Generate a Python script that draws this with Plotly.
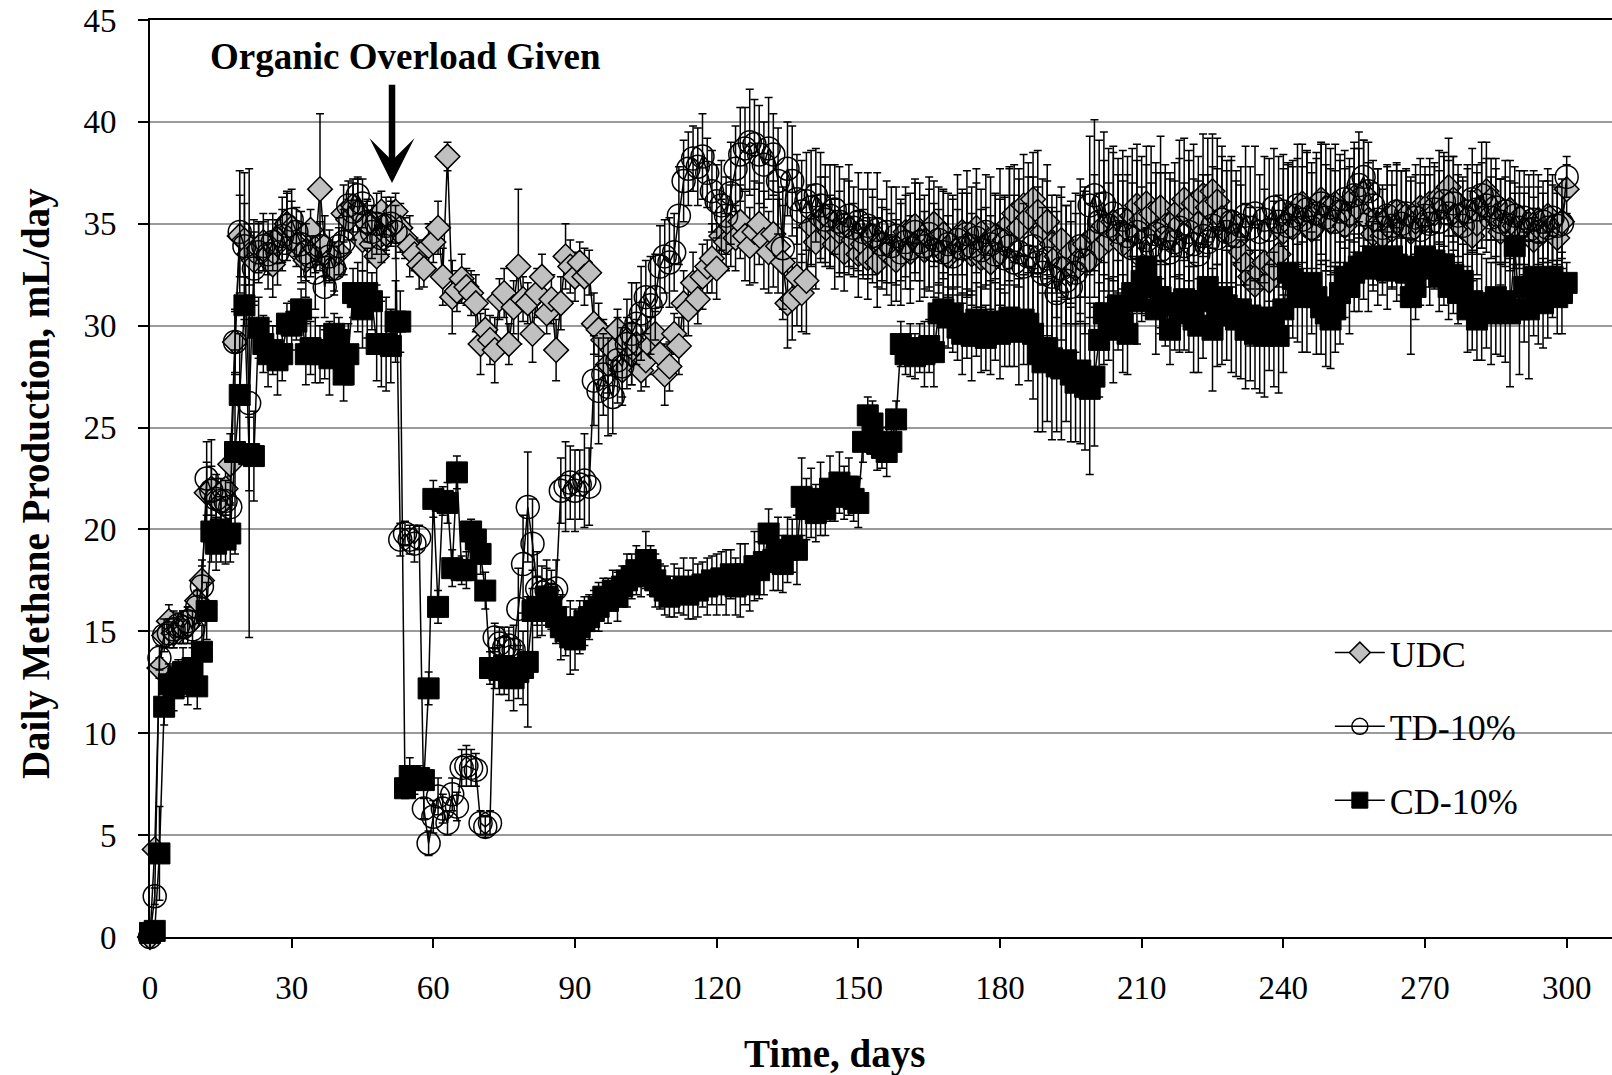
import plotly.graph_objects as go

days = list(range(0, 301))

udc = [
    0.0, 4.3, 13.2, 14.8, 15.5, 14.9, 15.0, 15.2, 15.3, 15.8,
    16.5, 17.5, 21.8, 22.0, 21.5, 21.3, 22.0, 23.2, 29.2, 34.4,
    34.2, 33.5, 33.2, 33.8, 34.1, 33.5, 33.0, 34.0, 34.5, 35.0,
    34.8, 34.0, 33.5, 33.2, 34.7, 33.8, 36.7, 33.9, 33.2, 32.8,
    33.6, 35.5, 35.2, 35.9, 35.6, 34.2, 35.0, 34.0, 33.4, 35.6,
    34.5, 35.2, 35.6, 34.8, 34.3, 33.9, 33.5, 33.0, 32.8, 33.9,
    34.1, 34.8, 32.4, 38.3, 31.4, 31.7, 32.3, 31.9, 31.6, 31.1,
    29.1, 29.8, 29.3, 28.8, 31.3, 31.6, 29.1, 30.9, 32.9, 31.3,
    31.1, 29.6, 31.6, 32.4, 30.6, 31.3, 28.8, 31.1, 33.4, 32.9,
    32.4, 33.1, 32.4, 32.6, 30.1, 29.8, 29.3, 28.1, 28.8, 29.8,
    27.8, 29.3, 28.6, 29.1, 27.8, 28.3, 29.0, 29.6, 28.6, 27.6,
    28.0, 29.6, 29.0, 31.1, 30.8, 32.1, 31.3, 32.4, 32.9, 33.3,
    32.8, 34.4, 34.1, 34.9, 34.3, 35.1, 34.4, 33.9, 34.6, 35.0,
    34.2, 33.6, 34.5, 33.9, 33.1, 31.1, 31.3, 32.4, 31.6, 32.2,
    34.9, 34.1, 35.2, 35.4, 34.6, 34.0, 34.6, 33.6, 34.8, 34.2,
    33.5, 34.0, 33.3, 34.4, 33.1, 34.0, 33.6, 33.8, 33.2, 34.1,
    34.6, 33.6, 34.9, 34.2, 33.7, 34.3, 35.0, 33.9, 34.5, 33.4,
    34.1, 33.8, 34.6, 34.0, 33.5, 34.8, 33.3, 33.9, 33.1, 34.4,
    33.6, 34.2, 35.0, 35.5, 34.8, 35.9, 35.3, 36.2, 35.6, 34.6,
    35.1, 34.0, 33.4, 34.2, 33.0, 33.6, 32.8, 33.3, 34.0, 33.2,
    34.4, 33.8, 34.9, 34.2, 35.1, 34.5, 34.0, 34.7, 35.4, 35.9,
    35.2, 36.0, 35.5, 34.6, 35.8, 34.9, 34.3, 35.2, 35.7, 36.2,
    35.4, 36.0, 35.0, 36.4, 35.8, 36.6, 36.1, 35.3, 34.6, 35.1,
    34.2, 33.6, 33.0, 32.4, 32.0, 32.6, 33.1, 32.2, 32.8, 33.5,
    34.6, 35.2, 34.8, 35.6, 36.0, 35.3, 34.7, 35.5, 36.2, 35.8,
    35.1, 36.0, 35.6, 34.9, 35.4, 36.3, 35.7, 36.5, 35.2, 34.5,
    35.0, 34.4, 35.3, 34.7, 35.6, 34.9, 35.4, 34.6, 35.1, 35.8,
    35.2, 36.0, 35.5, 36.3, 35.8, 36.8, 36.2, 35.4, 34.8, 35.3,
    34.4, 35.0, 35.9, 36.6, 36.2, 35.4, 34.6, 35.1, 35.7, 34.9,
    35.3, 34.5, 35.0, 34.2, 35.2, 34.6, 35.4, 34.9, 34.3, 35.1,
    36.7,
]

udc_err = [
    0.0, 0.3, 0.5, 0.6, 0.8, 0.7, 0.6, 0.8, 0.9, 0.7,
    0.8, 1.0, 1.5, 2.4, 1.2, 1.0, 1.3, 1.5, 1.6, 2.0,
    1.8, 1.5, 2.0, 1.2, 1.4, 1.0, 1.6, 1.2, 1.8, 1.5,
    1.3, 1.1, 1.4, 1.8, 1.0, 1.2, 3.7, 1.5, 1.0, 1.3,
    1.2, 1.4, 1.0, 1.3, 1.6, 1.5, 1.2, 0.9, 1.4, 1.0,
    0.8, 1.1, 0.9, 1.2, 1.0, 1.5, 0.8, 1.2, 0.9, 1.1,
    1.0, 1.3, 1.4, 0.7, 1.8, 1.0, 1.2, 0.9, 1.1, 1.4,
    1.5, 1.0, 1.2, 1.6, 1.0, 1.2, 1.0, 1.3, 3.8, 1.1,
    1.0, 1.4, 1.2, 1.1, 1.0, 1.2, 1.5, 1.3, 1.6, 1.3,
    1.2, 1.0, 1.4, 1.1, 1.5, 1.3, 1.0, 1.4, 1.2, 1.0,
    1.3, 1.1, 1.5, 1.2, 1.0, 1.3, 1.4, 1.1, 1.2, 1.5,
    1.2, 1.0, 1.4, 1.6, 1.3, 1.5, 1.2, 1.6, 1.3, 1.7,
    1.5, 1.8, 1.4, 2.0, 1.6, 1.8, 2.2, 1.9, 2.5, 2.0,
    2.4, 2.0, 2.6, 2.3, 2.8, 2.2, 2.0, 2.4, 1.9, 2.6,
    2.0, 2.3, 2.1, 2.5, 1.8, 2.2, 2.0, 1.9, 2.3, 1.8,
    2.1, 1.7, 2.0, 1.9, 2.2, 1.8, 2.1, 1.7, 2.0, 1.9,
    2.2, 1.8, 2.3, 2.0, 1.9, 2.4, 2.1, 1.8, 2.2, 2.0,
    2.3, 1.9, 2.1, 2.5, 2.0, 2.2, 2.4, 1.9, 2.3, 2.1,
    2.6, 2.2, 2.8, 2.4, 2.9, 2.5, 2.7, 2.3, 3.0, 2.6,
    2.8, 2.4, 3.0, 2.6, 2.9, 2.5, 2.7, 3.1, 2.6, 2.8,
    3.0, 2.7, 3.2, 2.8, 3.4, 2.9, 3.1, 2.7, 3.3, 3.0,
    3.1, 2.8, 3.3, 2.9, 3.5, 3.0, 3.2, 2.8, 3.4, 3.0,
    3.2, 2.9, 3.3, 3.0, 3.4, 2.8, 3.1, 3.5, 3.0, 3.2,
    2.9, 3.3, 3.0, 3.4, 2.8, 3.2, 3.6, 3.0, 3.3, 2.9,
    3.1, 2.7, 3.0, 2.6, 2.9, 3.2, 2.8, 3.0, 2.7, 3.1,
    2.6, 2.9, 2.5, 2.8, 2.4, 2.7, 3.0, 2.6, 2.8, 2.5,
    2.7, 2.3, 2.6, 2.9, 2.4, 2.7, 2.2, 2.5, 2.8, 2.4,
    2.6, 2.2, 2.5, 2.3, 2.7, 2.4, 2.1, 2.5, 2.3, 2.6,
    2.2, 2.5, 2.1, 2.4, 2.0, 2.3, 2.6, 2.2, 2.4, 2.1,
    2.3, 2.0, 2.4, 2.1, 2.2, 1.9, 2.3, 2.0, 2.2, 1.8,
    1.2,
]

td10 = [
    0.0, 2.0, 13.7, 14.8, 14.9, 15.1, 15.3, 15.2, 15.5, 15.1,
    16.2, 17.2, 22.5, 21.9, 21.5, 21.4, 21.4, 21.1, 29.2, 34.6,
    33.9, 26.2, 32.8, 33.6, 33.9, 33.5, 34.1, 33.6, 34.4, 34.9,
    35.2, 34.6, 34.0, 33.6, 33.4, 32.6, 33.9, 31.9, 33.4, 32.8,
    33.9, 34.1, 35.9, 35.6, 36.4, 36.0, 35.1, 34.6, 35.0, 34.3,
    34.9, 35.0, 34.6, 19.5, 19.8, 19.5, 19.3, 19.6, 6.3, 4.6,
    5.9, 6.9, 6.3, 5.6, 7.0, 6.4, 8.3, 8.4, 8.3, 8.2,
    5.6, 5.4, 5.6, 14.7, 14.4, 14.2, 14.3, 14.1, 16.1, 18.3,
    21.1, 19.3, 17.1, 16.9, 17.0, 16.8, 17.1, 21.9, 22.1, 22.3,
    21.9, 22.2, 22.4, 22.1, 27.3, 26.8, 27.6, 27.0, 26.5, 28.3,
    28.0, 29.1, 29.6, 30.1, 30.6, 31.4, 31.0, 31.4, 32.9, 33.4,
    33.1, 33.6, 35.4, 37.1, 37.7, 38.2, 37.8, 38.3, 37.5, 36.6,
    36.1, 35.9, 35.4, 36.5, 37.7, 38.4, 38.7, 39.0, 38.9, 38.4,
    37.9, 38.7, 38.4, 37.1, 33.8, 37.7, 37.1, 36.2, 35.6, 36.1,
    35.8, 36.4, 35.9, 35.2, 35.4, 35.7, 35.1, 34.9, 35.4, 34.8,
    35.1, 34.6, 34.9, 34.4, 34.7, 34.0, 34.6, 33.9, 34.4, 33.6,
    34.1, 33.8, 34.6, 34.1, 33.9, 34.5, 33.7, 34.2, 33.6, 34.0,
    33.4, 34.2, 33.8, 34.5, 33.9, 34.3, 33.7, 34.6, 34.0, 33.5,
    34.2, 33.3, 33.9, 33.1, 33.6, 32.9, 33.4, 33.9, 33.1, 32.6,
    33.3, 32.4, 31.6, 32.8, 32.2, 31.9, 32.6, 33.9, 33.2, 35.9,
    36.4, 35.1, 36.0, 34.9, 35.5, 34.6, 35.2, 34.4, 33.8, 34.6,
    33.5, 34.2, 33.9, 34.5, 33.7, 34.3, 33.6, 34.1, 34.8, 33.9,
    34.6, 34.0, 33.5, 34.4, 34.1, 34.9, 34.3, 35.2, 34.6, 35.1,
    34.4, 34.9, 35.4, 34.8, 35.5, 34.6, 35.2, 34.7, 35.8, 35.1,
    35.6, 34.9, 35.4, 35.9, 35.2, 35.7, 34.8, 35.5, 36.0, 35.3,
    35.8, 35.1, 35.6, 36.2, 35.5, 36.4, 36.9, 37.3, 36.6, 35.9,
    35.2, 34.8, 35.4, 34.9, 35.6, 35.0, 35.5, 34.8, 35.3, 34.7,
    35.4, 35.0, 35.7, 35.1, 36.1, 35.5, 36.0, 35.4, 34.9, 35.6,
    36.2, 35.7, 36.4, 35.9, 35.3, 35.8, 35.1, 35.6, 34.9, 35.4,
    34.8, 35.3, 34.7, 35.2, 34.6, 35.1, 34.8, 35.3, 34.9, 35.0,
    37.3,
]

td10_err = [
    0.0, 0.4, 0.6, 0.8, 0.7, 0.9, 0.6, 0.8, 0.7, 0.9,
    0.8, 1.0, 1.8, 1.2, 1.0, 1.1, 1.0, 1.2, 1.5, 3.0,
    3.6, 11.5, 1.8, 1.5, 1.2, 1.7, 1.4, 1.6, 1.3, 1.7,
    1.5, 1.2, 1.6, 1.4, 1.0, 1.8, 1.2, 1.5, 1.3, 1.1,
    1.4, 1.6, 1.2, 1.4, 0.9, 1.2, 1.0, 1.3, 1.5, 1.2,
    1.4, 1.1, 1.3, 0.8, 0.6, 0.7, 0.9, 0.6, 0.5, 0.6,
    0.8, 0.9, 0.7, 0.6, 0.8, 0.7, 0.9, 1.0, 0.9, 0.8,
    0.6, 0.5, 0.6, 0.7, 0.8, 1.0, 0.9, 1.2, 2.0, 2.4,
    2.7, 2.2, 1.8, 1.3, 1.5, 1.2, 1.4, 1.6, 2.2, 1.8,
    2.0, 1.7, 2.3, 1.9, 2.2, 2.6, 2.0, 2.4, 1.8, 2.1,
    1.9, 2.2, 2.5, 2.0, 2.3, 1.8, 2.4, 2.1, 2.0, 1.8,
    2.2, 1.9, 2.4, 2.0, 1.8, 1.6, 1.9, 2.1, 1.7, 2.0,
    1.8, 2.2, 1.9, 2.5, 2.1, 2.3, 2.0, 2.6, 2.2, 2.4,
    2.1, 2.5, 2.0, 2.6, 3.0, 2.3, 2.7, 2.2, 2.5, 2.4,
    2.8, 2.3, 2.6, 2.1, 2.5, 2.2, 2.7, 2.3, 2.5, 2.0,
    2.4, 2.1, 2.6, 2.3, 2.8, 2.2, 2.5, 2.9, 2.4, 2.6,
    2.3, 2.7, 2.4, 2.9, 2.5, 2.8, 2.3, 2.6, 3.0, 2.5,
    2.8, 3.2, 2.7, 3.1, 2.9, 3.4, 3.0, 2.8, 3.3, 2.9,
    3.5, 3.0, 3.8, 3.3, 3.6, 3.1, 3.9, 3.4, 3.7, 3.2,
    3.8, 3.4, 4.0, 3.5, 3.7, 3.2, 3.9, 3.3, 3.6, 3.4,
    3.7, 4.0, 3.5, 3.8, 3.3, 3.6, 3.4, 3.9, 3.2, 3.5,
    3.3, 3.7, 3.1, 3.5, 3.8, 3.2, 3.6, 3.0, 3.4, 3.1,
    3.5, 3.2, 3.6, 3.0, 3.3, 2.9, 3.4, 3.1, 3.5, 3.0,
    3.2, 2.9, 3.4, 3.0, 3.3, 2.8, 3.1, 3.5, 2.9, 3.2,
    2.8, 3.1, 2.7, 3.0, 2.6, 2.9, 3.2, 2.7, 3.0, 2.6,
    2.9, 2.5, 2.8, 2.4, 2.7, 2.3, 2.6, 1.8, 2.4, 2.2,
    2.5, 2.1, 2.4, 2.0, 2.3, 2.6, 2.2, 2.5, 2.1, 2.3,
    2.0, 2.4, 2.1, 2.5, 2.2, 2.6, 2.3, 2.0, 2.4, 2.1,
    2.5, 2.2, 2.6, 2.3, 2.0, 2.4, 2.1, 2.5, 2.2, 2.4,
    2.0, 2.3, 2.1, 2.4, 2.2, 2.0, 2.3, 2.1, 1.9, 2.2,
    1.0,
]

cd10 = [
    0.2, 0.3, 4.1, 11.3, 12.4, 12.2, 12.7, 13.0, 12.4, 13.2,
    12.3, 14.0, 16.0, 19.9, 19.3, 20.0, 19.5, 19.8, 23.8, 26.6,
    31.0, 23.7, 23.6, 29.9, 29.1, 28.6, 28.8, 28.3, 28.6, 30.1,
    30.0, 30.2, 30.8, 28.6, 28.9, 28.8, 28.6, 28.6, 28.4, 29.6,
    29.3, 27.6, 28.6, 31.6, 31.4, 30.8, 31.6, 31.2, 29.1, 29.1,
    29.1, 29.0, 30.2, 30.2, 7.3, 7.9, 7.7, 7.8, 7.7, 12.2,
    21.5, 16.2, 21.4, 21.3, 18.1, 22.8, 18.0, 18.0, 19.9, 19.5,
    18.8, 17.0, 13.2, 13.2, 13.1, 13.3, 12.7, 12.7, 13.0, 13.2,
    13.5, 16.0, 16.2, 16.0, 16.7, 16.2, 15.7, 15.2, 15.0, 14.7,
    14.6, 15.2, 15.5, 15.7, 16.0, 16.2, 16.7, 16.5, 17.0, 16.7,
    17.2, 17.5, 17.7, 18.0, 17.7, 18.5, 18.0, 17.5, 17.2, 17.0,
    16.7, 17.0, 17.0, 17.2, 16.8, 17.1, 17.0, 17.3, 17.2, 17.5,
    17.3, 17.6, 17.4, 17.8, 17.2, 17.5, 17.8, 17.3, 18.2, 18.0,
    18.4, 19.8, 18.5, 18.8, 18.3, 19.0, 19.2, 19.0, 21.6, 21.0,
    21.3, 20.8, 21.5, 21.0, 22.0, 21.6, 22.3, 21.8, 22.1, 21.5,
    21.3, 24.3, 25.6, 25.2, 24.2, 24.0, 23.8, 24.3, 25.4, 29.1,
    28.6, 28.8, 28.5, 28.9, 28.6, 29.0, 28.7, 30.6, 30.8, 30.4,
    30.6, 29.9, 29.6, 30.1, 29.5, 30.3, 29.8, 29.4, 29.9, 30.2,
    29.6, 29.8, 30.4, 30.0, 29.7, 30.3, 30.1, 29.6, 28.6, 28.2,
    28.9, 28.4, 28.0, 27.9, 28.3, 27.6, 27.2, 27.8, 27.0, 26.9,
    27.5, 29.3, 30.6, 30.3, 29.8, 31.0, 30.1, 29.6, 31.6, 31.2,
    32.2, 32.9, 31.9, 30.8, 31.4, 31.0, 29.8, 31.1, 30.6, 31.3,
    30.8, 30.3, 30.0, 31.2, 31.9, 29.8, 30.5, 31.4, 31.0, 30.8,
    30.3, 30.8, 29.8, 30.5, 29.6, 30.2, 29.5, 30.4, 30.3, 29.5,
    30.8, 32.6, 32.3, 31.6, 31.4, 31.9, 32.1, 31.4, 30.9, 30.6,
    30.3, 30.8, 31.6, 32.4, 31.9, 32.6, 32.9, 33.1, 32.8, 33.4,
    33.0, 33.1, 32.7, 33.4, 33.0, 32.9, 32.6, 31.4, 31.9, 32.9,
    33.4, 32.8, 33.2, 32.4, 33.0, 31.9, 32.5, 31.6, 32.2, 30.8,
    31.2, 30.3, 30.9, 31.1, 30.6, 31.4, 30.8, 31.2, 30.6, 33.9,
    30.8, 31.9, 30.8, 32.4, 31.6, 31.1, 32.0, 32.4, 31.4, 31.6,
    32.1,
]

cd10_err = [
    0.1, 0.2, 2.3, 0.9, 1.0, 1.1, 0.9, 1.2, 1.0, 1.2,
    1.1, 1.3, 1.4, 1.5, 1.3, 1.6, 1.2, 1.4, 5.0, 3.0,
    1.0, 1.8, 2.2, 1.5, 1.4, 1.6, 1.2, 1.7, 1.3, 1.0,
    1.2, 0.9, 1.0, 1.5, 1.3, 1.6, 1.4, 1.2, 1.8, 1.0,
    1.1, 1.3, 1.5, 1.2, 1.7, 1.9, 2.2, 1.4, 1.8, 2.1,
    2.3, 1.8, 2.0, 1.5, 0.5, 0.9, 0.7, 0.6, 0.5, 0.8,
    0.9, 0.8, 0.7, 1.0, 0.9, 0.8, 0.7, 0.9, 0.6, 0.8,
    1.0, 0.9, 0.8, 1.0, 1.2, 1.4, 1.1, 1.6, 1.3, 1.8,
    3.2, 2.0, 1.5, 1.2, 1.4, 1.1, 1.3, 1.6, 1.2, 1.8,
    1.5, 1.3, 1.2, 1.1, 1.0, 1.2, 0.9, 1.1, 1.0, 1.2,
    1.0, 1.3, 1.1, 1.2, 1.0, 1.4, 1.2, 1.3, 1.1, 1.2,
    1.0, 1.3, 1.1, 1.4, 1.2, 1.5, 1.3, 1.1, 1.4, 1.2,
    1.5, 1.3, 1.6, 1.2, 1.4, 1.8, 1.5, 1.3, 1.7, 1.4,
    1.6, 1.2, 1.5, 1.8, 1.4, 1.6, 1.3, 1.7, 1.9, 1.5,
    1.7, 1.4, 1.8, 1.3, 1.6, 1.2, 1.5, 1.3, 1.4, 1.1,
    1.2, 1.0, 0.9, 1.1, 1.3, 1.0, 1.2, 1.0, 0.9, 1.1,
    1.0, 1.3, 1.1, 1.2, 1.6, 1.3, 1.7, 1.4, 1.8, 1.5,
    1.9, 1.6, 2.0, 1.7, 2.2, 1.8, 2.1, 1.6, 2.3, 1.9,
    2.2, 1.8, 2.4, 2.0, 2.6, 2.2, 2.8, 3.2, 3.8, 3.4,
    3.6, 4.0, 3.2, 3.5, 3.0, 3.3, 2.9, 3.6, 3.1, 4.2,
    3.4, 2.8, 2.5, 2.0, 2.6, 2.2, 2.4, 2.0, 1.8, 2.1,
    1.6, 1.9, 1.5, 2.2, 1.8, 2.0, 1.7, 2.3, 1.9, 2.5,
    2.1, 2.6, 2.3, 2.8, 2.2, 3.0, 2.5, 3.3, 2.7, 3.1,
    2.8, 3.4, 2.9, 3.2, 2.7, 3.5, 3.0, 2.6, 3.3, 2.8,
    3.1, 2.6, 2.9, 2.4, 2.7, 3.2, 2.5, 2.8, 2.3, 2.6,
    2.4, 2.1, 2.5, 2.0, 2.3, 1.9, 2.2, 1.8, 2.1, 1.7,
    2.0, 1.6, 1.9, 1.5, 1.8, 1.4, 1.7, 2.8, 1.6, 1.9,
    1.5, 1.8, 1.4, 1.7, 2.0, 1.6, 1.9, 1.5, 1.8, 2.1,
    2.4, 2.0, 2.6, 2.2, 2.5, 2.8, 2.3, 3.0, 3.6, 2.6,
    3.2, 2.7, 3.4, 2.9, 2.5, 2.2, 2.6, 2.0, 1.8, 2.0,
    1.0,
]

for arr in (udc, udc_err, td10, td10_err, cd10, cd10_err):
    assert len(arr) == len(days), len(arr)

x_ticks = [0, 30, 60, 90, 120, 150, 180, 210, 240, 270, 300]
y_ticks = [0, 5, 10, 15, 20, 25, 30, 35, 40, 45]

FONT = "Liberation Serif"


def err(vals):
    return dict(type="data", array=vals, visible=True, color="black",
                thickness=1.5, width=4)


fig = go.Figure()
fig.add_trace(go.Scatter(
    x=days, y=udc, name="UDC", mode="lines+markers", legendgroup="a",
    line=dict(color="black", width=1.5),
    marker=dict(symbol="diamond", size=19, color="#C0C0C0",
                line=dict(color="black", width=1.5)),
    error_y=err(udc_err), cliponaxis=False))
fig.add_trace(go.Scatter(
    x=days, y=td10, name="TD-10%", mode="lines+markers", legendgroup="b",
    line=dict(color="black", width=1.5),
    marker=dict(symbol="circle-open", size=23, color="black",
                line=dict(color="black", width=1.5)),
    error_y=err(td10_err), cliponaxis=False))
fig.add_trace(go.Scatter(
    x=days, y=cd10, name="CD-10%", mode="lines+markers", legendgroup="c",
    line=dict(color="black", width=1.5),
    marker=dict(symbol="square", size=21, color="black",
                line=dict(color="black", width=1)),
    error_y=err(cd10_err), cliponaxis=False))

fig.update_layout(
    width=1612, height=1075,
    margin=dict(l=150, r=0, t=20, b=138, autoexpand=False),
    paper_bgcolor="white", plot_bgcolor="white",
    font=dict(family=FONT, color="black", size=33),
    showlegend=True,
    legend=dict(x=0.807, y=0.3428, xanchor="left", yanchor="top",
                bgcolor="rgba(255,255,255,0)", borderwidth=0,
                font=dict(family=FONT, size=36, color="black"),
                tracegroupgap=24, traceorder="grouped", itemwidth=50),
    xaxis=dict(range=[0, 309.6], tickvals=x_ticks, showgrid=False,
               zeroline=False, showline=True, linecolor="black",
               linewidth=2, mirror=True, ticks="outside", ticklen=9,
               tickwidth=1.5, tickcolor="black", automargin=False,
               tickfont=dict(family=FONT, size=33, color="black"),
               ticklabelstandoff=11),
    yaxis=dict(range=[0, 45], tickvals=y_ticks, showgrid=True,
               gridcolor="#9a9a9a", gridwidth=1.5, zeroline=False,
               showline=True, linecolor="black", linewidth=2,
               ticks="outside", ticklen=10, tickwidth=1.5,
               tickcolor="black", automargin=False,
               tickfont=dict(family=FONT, size=33, color="black"),
               ticklabelstandoff=15),
    shapes=[dict(type="rect", xref="paper", yref="paper", layer="between",
                 x0=0.7647, x1=0.981, y0=0.073, y1=0.3675,
                 fillcolor="white", line=dict(width=0))],
    annotations=[
        dict(text="<b>Organic Overload Given</b>", x=54.2, y=43.2,
             xref="x", yref="y", showarrow=False,
             font=dict(family=FONT, size=37, color="black")),
        dict(text="", x=51.25, y=37.0, ax=51.25, ay=41.9,
             xref="x", yref="y", axref="x", ayref="y",
             showarrow=True, arrowhead=3, arrowsize=1.15, arrowwidth=6.5,
             arrowcolor="black", standoff=0),
        dict(text="<b>Time, days</b>", x=0.4685, y=-0.1276,
             xref="paper", yref="paper", showarrow=False,
             xanchor="center", yanchor="middle",
             font=dict(family=FONT, size=39, color="black")),
        dict(text="<b>Daily Methane Production, mL/day</b>", x=-0.078,
             y=0.495, xref="paper", yref="paper", showarrow=False,
             textangle=-90, xanchor="center", yanchor="middle",
             font=dict(family=FONT, size=39, color="black")),
    ],
)

fig.write_html(
    "out.html",
    config={"displayModeBar": False},
    post_script=("document.documentElement.style.margin='0';"
                 "document.body.style.margin='0';"
                 "document.body.style.padding='0';"
                 "document.documentElement.style.overflow='hidden';"
                 "document.body.style.overflow='hidden';"),
)
